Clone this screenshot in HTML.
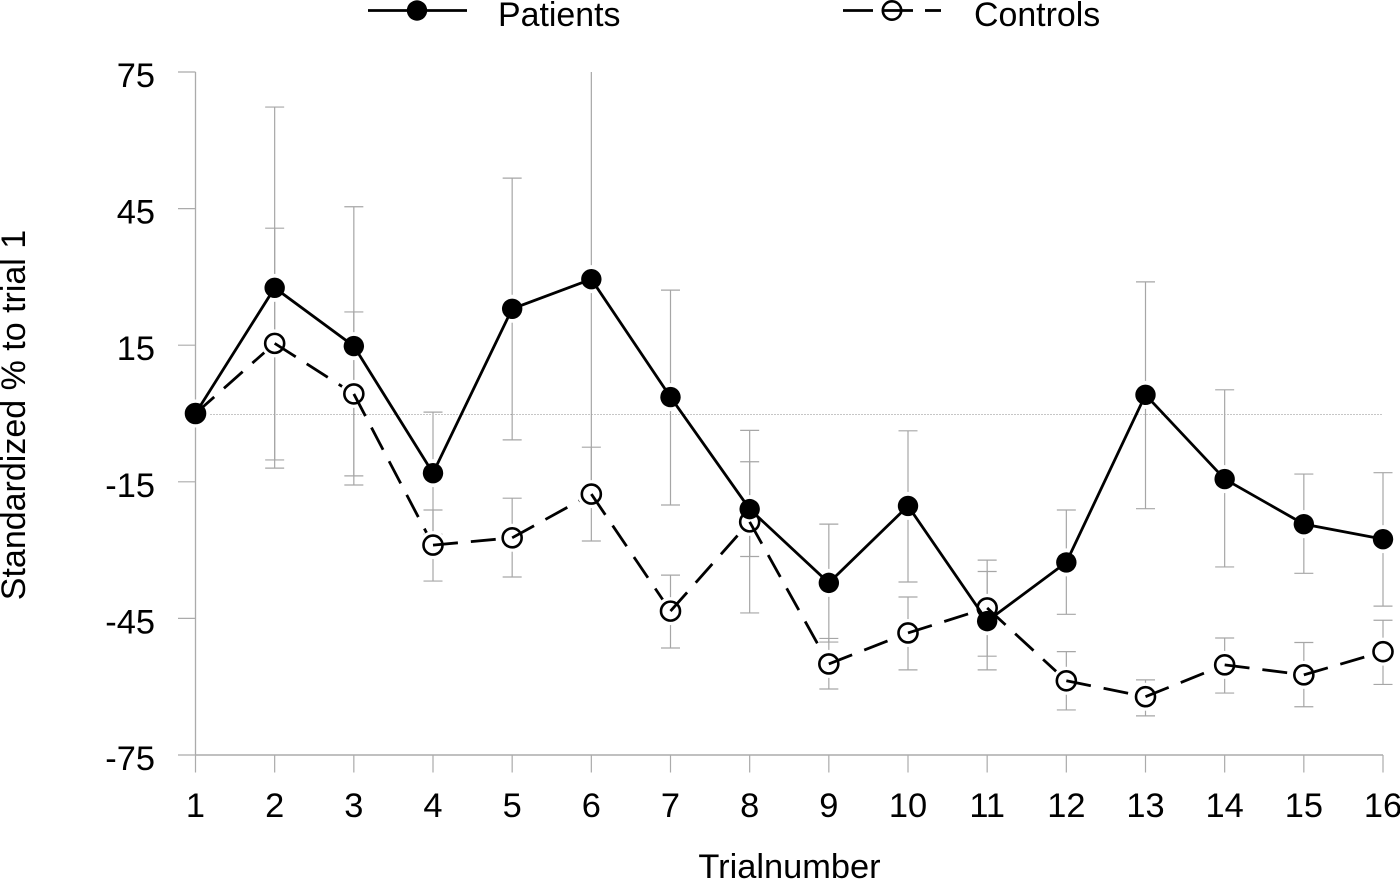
<!DOCTYPE html>
<html lang="en">
<head>
<meta charset="utf-8">
<title>Standardized % to trial 1: Patients and Controls</title>
<style>
html,body{margin:0;padding:0;background:#fff;}
svg{display:block;}
text{font-family:"Liberation Sans",Arial,sans-serif;fill:#000;}
</style>
</head>
<body>
<svg id="chart" xmlns="http://www.w3.org/2000/svg" width="1400" height="879" viewBox="0 0 1400 879">
  <rect width="1400" height="879" fill="#fff"/>
  <g>
    <g>
      <line x1="368" y1="10.5" x2="467" y2="10.5" stroke="#000" stroke-width="2.8"/>
      <circle cx="417" cy="10.5" r="10.2" fill="#000"/>
      <text x="498" y="26" font-size="33.9">Patients</text>
    </g>
    <g>
      <line x1="843" y1="10.5" x2="873" y2="10.5" stroke="#000" stroke-width="2.8"/>
      <line x1="883" y1="10.5" x2="913" y2="10.5" stroke="#000" stroke-width="2.8"/>
      <line x1="925" y1="10.5" x2="941" y2="10.5" stroke="#000" stroke-width="2.8"/>
      <circle cx="892" cy="10.5" r="9.2" fill="none" stroke="#000" stroke-width="2.6"/>
      <text x="974" y="26" font-size="33.9">Controls</text>
    </g>
  </g>
  <text transform="translate(25,415) rotate(-90)" text-anchor="middle" font-size="34">Standardized % to trial 1</text>
  <text x="789.5" y="878" text-anchor="middle" font-size="34.4">Trialnumber</text>
  <g id="plot"></g>
</svg>
<script>
const trials = ["1","2","3","4","5","6","7","8","9","10","11","12","13","14","15","16"];
const yTicks = [75,45,15,-15,-45,-75];
const patients = [0,27.6,14.8,-13.1,23.0,29.5,3.6,-21.0,-37.2,-20.3,-45.6,-32.7,4.1,-14.4,-24.3,-27.6];
const controls = [0,15.4,4.3,-28.9,-27.3,-17.7,-43.4,-23.8,-55.0,-48.2,-42.7,-58.7,-62.2,-55.2,-57.4,-52.3];
const patientsHigh = [null,67.3,45.4,0.3,51.7,77.6,27.1,-10.6,-24.3,-3.8,-34.7,-21.2,28.9,5.2,-13.3,-13.0];
const patientsLow = [null,-12.0,-15.7,-26.5,-5.8,-18.6,-20.1,-31.4,-50.2,-37.0,-56.3,-44.1,-20.9,-33.7,-35.1,-42.3];
const controlsHigh = [null,40.7,22.3,-21.2,-18.6,-7.4,-35.5,-3.7,-49.4,-40.3,-32.2,-52.3,-58.5,-49.3,-50.3,-45.4];
const controlsLow = [null,-10.2,-13.7,-36.8,-35.9,-28.0,-51.5,-43.8,-60.5,-56.3,-53.3,-65.1,-66.4,-61.4,-64.4,-59.5];

const plot = document.getElementById('plot');
const NS = 'http://www.w3.org/2000/svg';
const X0 = 195.5, XSTEP = (1383 - 195.5) / 15;
const YTOP = 72, YBOT = 755, YMAX = 75, YMIN = -75;
const AXIS = '#ababab', WHISK = '#a6a6a6';
function xAt(i){ return X0 + i * XSTEP; }
function yAt(v){ return YTOP + (YMAX - v) * (YBOT - YTOP) / (YMAX - YMIN); }
function make(tag, attrs, parent){
  const el = document.createElementNS(NS, tag);
  for (const k in attrs) el.setAttribute(k, attrs[k]);
  (parent || plot).appendChild(el);
  return el;
}
function vLine(x, y1, y2, stroke, w){ return make('line', {x1:x, x2:x, y1:y1, y2:y2, stroke:stroke, 'stroke-width':w}); }
function hLine(y, x1, x2, stroke, w){ return make('line', {x1:x1, x2:x2, y1:y, y2:y, stroke:stroke, 'stroke-width':w}); }

// zero reference line
const zero = hLine(Math.round(yAt(0)) + 0.5, X0, xAt(15), '#8c8c8c', 1);
zero.setAttribute('stroke-dasharray', '1 2');



// axes
const yAxis = vLine(X0, YTOP, YBOT, AXIS, 1.3);


const xAxis = hLine(YBOT, X0, xAt(15), AXIS, 1.5);



yTicks.forEach(function(v){
  const t = hLine(yAt(v), 178, X0, AXIS, 1.2);
  
  
  const l = make('text', {x:155, y:yAt(v) + 15, 'text-anchor':'end', 'font-size':34.4});
  l.textContent = String(v);
  
  
});
trials.forEach(function(label, i){
  const t = vLine(xAt(i), YBOT, 772.5, AXIS, 1.2);
  
  
  const l = make('text', {x:xAt(i), y:817, 'text-anchor':'middle', 'font-size':34.4});
  l.textContent = label;
  
  
});

// error bars
function whiskers(high, low, series){
  high.forEach(function(h, i){
    if (h === null) return;
    const x = xAt(i), yTop = yAt(Math.min(h, YMAX)), yLow = yAt(low[i]);
    const bar = vLine(x, yTop, yLow, WHISK, 1.2);
    
    
    if (h <= YMAX) {
      const capTop = hLine(yTop, x - 9.5, x + 9.5, WHISK, 1.2);
      
      
    }
    const capLow = hLine(yLow, x - 9.5, x + 9.5, WHISK, 1.2);
    
    
  });
}
whiskers(controlsHigh, controlsLow, 'controls');
whiskers(patientsHigh, patientsLow, 'patients');

// white halos on whiskers around patient markers
patients.forEach(function(v, i){
  const h = make('circle', {cx:xAt(i), cy:yAt(v), r:14, fill:'#fff'});
  
  
});

// controls series: each dashed segment restarts at its point
controls.forEach(function(v, i){
  const x = xAt(i), y = yAt(v);
  const halo = make('circle', {cx:x, cy:y, r:14, fill:'#fff'});
  
  
  const m = make('circle', {cx:x, cy:y, r:9.5, fill:'none', stroke:'#000', 'stroke-width':2.6});
  
  
  if (i < controls.length - 1) {
    const g = make('line', {x1:x, y1:y, x2:xAt(i + 1), y2:yAt(controls[i + 1]), stroke:'#000', 'stroke-width':2.8, 'stroke-dasharray':'25 13'});
    
    
  }
});

// patients series
const ppts = patients.map(function(v, i){ return xAt(i) + ',' + yAt(v); }).join(' ');
const pl = make('polyline', {points:ppts, fill:'none', stroke:'#000', 'stroke-width':2.8, 'stroke-linejoin':'miter'});


patients.forEach(function(v, i){
  const m = make('circle', {cx:xAt(i), cy:yAt(v), r:10.2, fill:'#000'});
  
  
});
</script>
</body>
</html>
